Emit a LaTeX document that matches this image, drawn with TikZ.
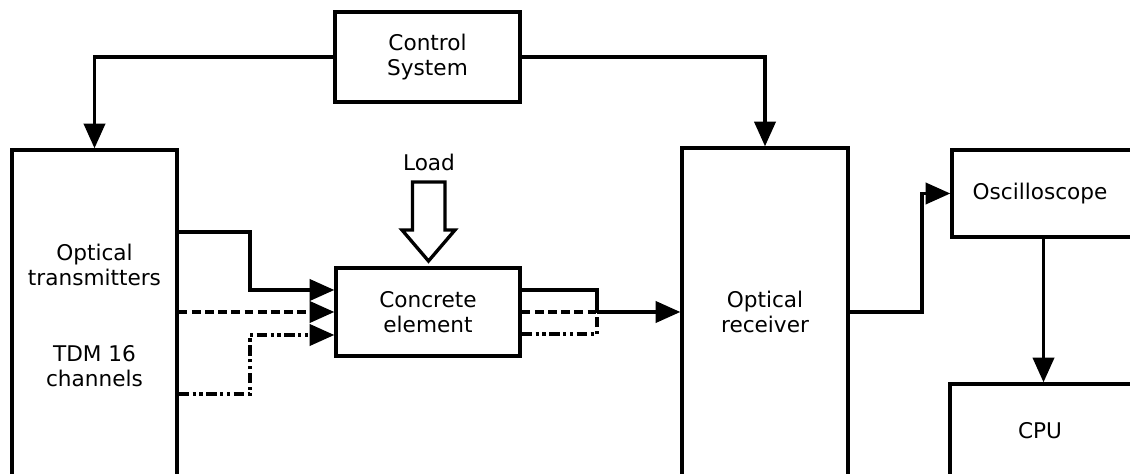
\documentclass[tikz,border=0pt]{standalone}
\usepackage{fontspec}
\setmainfont{DejaVu Sans}
\usepackage{tikz}
\usetikzlibrary{arrows.meta,positioning,calc}

\begin{document}
\begin{tikzpicture}[
    font=\fontsize{12.3}{14}\selectfont,
    block/.style={
        rectangle, draw=black, line width=1.9pt, align=center, inner sep=0pt
    },
    label/.style={align=center, inner sep=0pt},
    arr/.style={
        -{Triangle[length=14pt, width=12pt]}, line width=1.9pt, draw=black
    },
    wire/.style={line width=1.9pt, draw=black},
    dashline/.style={dash pattern=on 5pt off 2.5pt},
    dotdash/.style={dash pattern=on 6pt off 2pt on 1.8pt off 2pt on 1.8pt off 2pt}
]

% Frame
\useasboundingbox (0,0) rectangle (22.6,-9.48);

% Blocks
\node[block, minimum width=3.7cm, minimum height=1.8cm] (ctrl) at (8.55, -1.14) {Control\\System};

\node[block, minimum width=3.3cm, minimum height=6.8cm] (tx) at (1.89, -6.4) {};
\node[label] (txlbl) at (1.89, -5.3) {Optical\\transmitters};
\node[label] (tdmlbl) at (1.89, -7.32) {TDM 16\\channels};

\node[block, minimum width=3.68cm, minimum height=1.76cm] (conc) at (8.56, -6.24) {Concrete\\element};

\node[block, minimum width=3.32cm, minimum height=6.84cm] (rx) at (15.3, -6.38) {};
\node[label] (rxlbl) at (15.3, -6.24) {Optical\\receiver};

\node[block, minimum width=3.66cm, minimum height=1.74cm] (osc) at (20.87, -3.87) {};
\node[label] (osclbl) at (20.8, -3.87) {Oscilloscope};

\node[block, minimum width=3.7cm, minimum height=2.12cm] (cpu) at (20.85, -8.74) {};
\node[label] (cpulbl) at (20.8, -8.62) {CPU};

% Load
\node[label] (load) at (8.58, -3.24) {Load};
\draw[wire, fill=white] (8.25,-3.64) -- (8.9,-3.64) -- (8.9,-4.6) -- (9.1,-4.6)
    -- (8.57,-5.22) -- (8.04,-4.6) -- (8.25,-4.6) -- cycle;

% Control lines
\draw[arr] (ctrl.west) -| (tx.north);
\draw[arr] (ctrl.east) -| (rx.north);

% Inputs to concrete element
\draw[arr] (tx.east |- 0,-4.64) -| (5.0,-5.8) -- (conc.west |- 0,-5.8);
\draw[arr, dashline] (tx.east |- conc.west) -- (conc.west);
\draw[arr, dotdash] (tx.east |- 0,-7.88) -| (5.0,-6.7) -- (conc.west |- 0,-6.7);

% Outputs of concrete element
\coordinate (merge) at (11.94, -6.24);
\coordinate (bend) at (18.44, -6.24);
\draw[wire] (conc.east |- 0,-5.8) -| (merge);
\draw[wire, dashline] (conc.east) -- (merge);
\draw[wire, dotdash] (conc.east |- 0,-6.68) -| (merge);
\draw[arr] (merge) -- (rx.west |- merge);

% Receiver to scope to CPU
\draw[arr] (rx.east |- merge) -- (bend) |- (osc.west);
\draw[arr] (osc.south) -- (osc.south |- cpu.north);

\end{tikzpicture}
\end{document}
